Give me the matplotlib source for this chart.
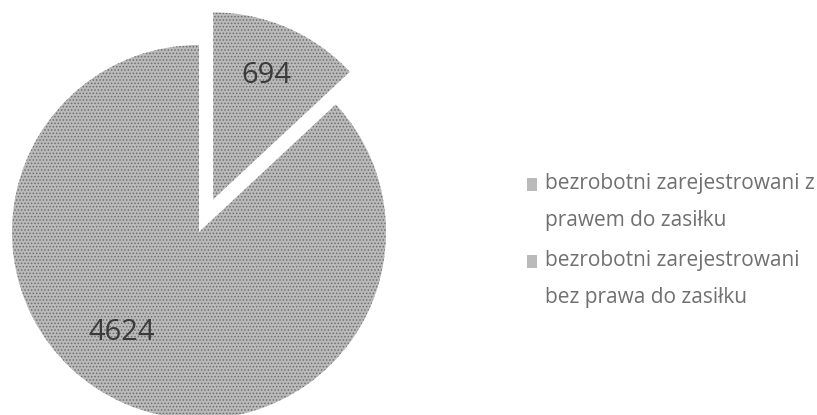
import matplotlib
matplotlib.use('Agg')
import matplotlib.pyplot as plt
from matplotlib.patches import Patch, Rectangle
from matplotlib.legend_handler import HandlerPatch

values = [694, 4624]
labels = ['694', '4624']
legend_labels = ['bezrobotni zarejestrowani z\nprawem do zasiłku',
                 'bezrobotni zarejestrowani\nbez prawa do zasiłku']

plt.rcParams['font.family'] = ['Open Sans', 'DejaVu Sans']
plt.rcParams['hatch.color'] = '#6e6e6e'
plt.rcParams['hatch.linewidth'] = 0.7

FILL = '#bababa'

fig = plt.figure(figsize=(8.17, 4.15), dpi=100)
ax = fig.add_axes([0, 0, 1, 1])
ax.set_xlim(0, 817)
ax.set_ylim(0, 415)
ax.set_aspect('equal')

R = 187
cx, cy = 199, 183
wedges, texts = ax.pie(values, labels=labels, startangle=90, counterclock=False,
                       center=(cx, cy), radius=R, explode=[0.19 * R, 0],
                       labeldistance=0.72, colors=[FILL, FILL],
                       wedgeprops=dict(linewidth=0, hatch='.....'),
                       textprops=dict(fontsize=21, color='#3a3a3a'),
                       frame=True)
ax.axis('off')
for t in texts:
    t.set_horizontalalignment('center')
    t.set_verticalalignment('center')
# big slice label sits further left than the bisector
texts[1].set_position((cx - 77, cy - 100))


# legend marker sits next to the first line of the label
def top_square(legend, orig_handle, xdescent, ydescent, width, height, fontsize):
    return Rectangle((-xdescent, -ydescent + 0.86 * fontsize), width, height)


handles = [Patch(facecolor=FILL, hatch='....', edgecolor='none') for _ in values]
leg = fig.legend(handles, legend_labels, loc='upper left', bbox_to_anchor=(0.645, 0.583),
                 frameon=False, fontsize=15, labelcolor='#707070', handlelength=0.48,
                 handleheight=0.58, handletextpad=0.38, labelspacing=0.9,
                 borderaxespad=0, borderpad=0,
                 handler_map={Patch: HandlerPatch(patch_func=top_square)})
plt.setp(leg.get_texts(), linespacing=2.0)

fig.savefig('out.png', dpi=100)
